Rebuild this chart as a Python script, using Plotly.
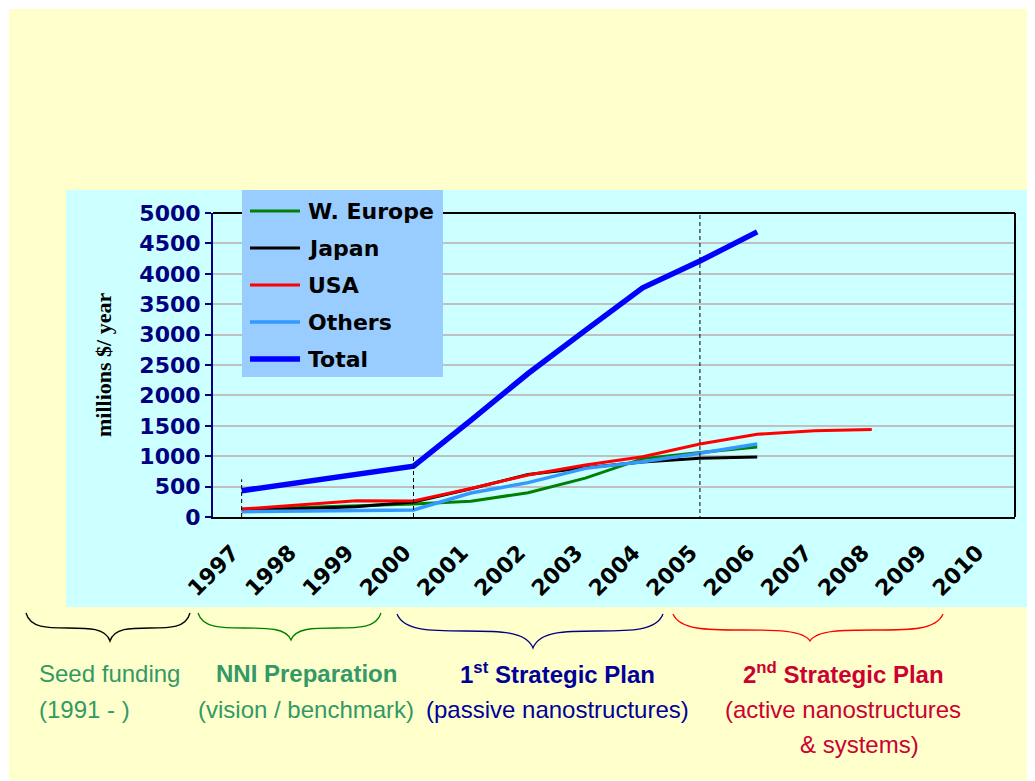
import plotly.graph_objects as go

# ---------------- data ----------------
years = [str(y) for y in range(1997, 2011)]
series_names = ["W. Europe", "Japan", "USA", "Others", "Total"]
weurope = [126, 151, 179, 212, 260, 400, 640, 960, 1060, 1150, None, None, None, None]
japan   = [115, 135, 168, 245, 465, 700, 810, 905, 965, 985, None, None, None, None]
usa     = [131, 197, 266, 265, 470, 690, 855, 990, 1200, 1360, 1420, 1440, None, None]
others  = [88, 96, 105, 115, 395, 565, 800, 910, 1050, 1200, None, None, None, None]
total   = [433, 567, 700, 835, 1590, 2360, 3070, 3770, 4210, 4690, None, None, None, None]
y_ticks = list(range(0, 5001, 500))

series_values = [weurope, japan, usa, others, total]
series_colors = ["#008000", "#000000", "#FF0000", "#3399FF", "#0000FF"]
series_widths = [3, 3, 3, 3.5, 5.5]
draw_order = [0, 1, 3, 2, 4]

phase_titles = ["Seed funding", "<b>NNI Preparation</b>", "<b>1<sup>st</sup> Strategic Plan</b>",
                "<b>2<sup>nd</sup> Strategic Plan</b>"]
phase_subs = [["(1991 - )"], ["(vision / benchmark)"], ["(passive nanostructures)"],
              ["(active nanostructures", "& systems)"]]

# ---------------- geometry (page pixels; the page body adds an 8px margin) ----------------
OFF = 8
PAGE_W, PAGE_H = 1035, 781
W, H = PAGE_W - OFF, PAGE_H - OFF
L, R, T, B = 213, 1015, 213, 517   # plot area in page pixels


def px(x):
    return (x - L) / (R - L)


def py(y):
    return (B - y) / (B - T)


fig = go.Figure()
for i in draw_order:
    fig.add_trace(go.Scatter(
        x=years, y=series_values[i], name=series_names[i], mode="lines",
        line=dict(color=series_colors[i], width=series_widths[i]),
        connectgaps=False, showlegend=False))

shapes = []
# page background & chart panel
shapes.append(dict(type="rect", xref="paper", yref="paper", x0=px(9), x1=px(1040), y0=py(9), y1=py(780),
                   fillcolor="#FFFFCC", line=dict(width=0), layer="below"))
shapes.append(dict(type="rect", xref="paper", yref="paper", x0=px(66), x1=px(1040), y0=py(190), y1=py(607),
                   fillcolor="#CCFFFF", line=dict(width=0), layer="below"))
# top and right border
shapes.append(dict(type="line", xref="paper", yref="paper", x0=0, x1=1, y0=1, y1=1,
                   line=dict(color="black", width=2), layer="above"))
shapes.append(dict(type="line", xref="paper", yref="paper", x0=1, x1=1, y0=0, y1=1,
                   line=dict(color="black", width=2), layer="above"))
# dashed phase markers
for xi, ytop, ybot in [(0, 620, 0), (3, 1000, 0), (8, 5000, -50)]:
    shapes.append(dict(type="line", xref="x", yref="y", x0=xi, x1=xi, y0=ybot, y1=ytop,
                       line=dict(color="black", width=1, dash="4px,3px"), layer="above"))

# manual legend
shapes.append(dict(type="rect", xref="paper", yref="paper", x0=px(242), x1=px(443), y0=py(190), y1=py(377),
                   fillcolor="#99CCFF", line=dict(width=0), layer="above"))
annotations = []
leg_y = [211, 248, 285, 322, 359]
for i in range(5):
    shapes.append(dict(type="line", xref="paper", yref="paper", x0=px(250), x1=px(300),
                       y0=py(leg_y[i]), y1=py(leg_y[i]),
                       line=dict(color=series_colors[i], width=series_widths[i]), layer="above"))
    annotations.append(dict(xref="paper", yref="paper", x=px(306), y=py(leg_y[i]), text="<b>%s</b>" % series_names[i],
                            showarrow=False, xanchor="left", yanchor="middle",
                            font=dict(family="DejaVu Sans", size=22, color="black")))


# braces
def brace(x0, x1, xm, ytop, ymid, ytip):
    Lw = xm - x0
    Rw = x1 - xm
    pts = [
        ("M", [(x0, ytop)]),
        ("C", [(x0 + 0.05 * Lw, ymid), (x0 + 0.25 * Lw, ymid), (x0 + 0.5 * Lw, ymid)]),
        ("C", [(xm - 0.25 * Lw, ymid), (xm - 0.05 * Lw, ymid), (xm, ytip)]),
        ("C", [(xm + 0.05 * Rw, ymid), (xm + 0.25 * Rw, ymid), (xm + 0.5 * Rw, ymid)]),
        ("C", [(x1 - 0.25 * Rw, ymid), (x1 - 0.05 * Rw, ymid), (x1, ytop)]),
    ]
    s = ""
    for cmd, pl in pts:
        s += cmd + " " + " ".join("%.5f,%.5f" % (px(a), py(b)) for a, b in pl) + " "
    return s.strip()


brace_specs = [
    (26, 190, 110, 613, 628, 641, "#000000"),
    (198, 381, 291, 613, 628, 640, "#008000"),
    (397, 663, 533, 614, 631, 648, "#000080"),
    (673, 943, 810, 614, 630, 641, "#FF0000"),
]
for x0, x1, xm, yt, ym, yp, c in brace_specs:
    shapes.append(dict(type="path", xref="paper", yref="paper", path=brace(x0, x1, xm, yt, ym, yp),
                       line=dict(color=c, width=1.3), layer="above"))

# phase texts
narrow = "Liberation Sans, Arial, sans-serif"
phase_colors = ["#339966", "#339966", "#000099", "#CC0033"]
title_pos = [(37, "left"), (306, "center"), (557, "center"), (843, "center")]
sub_pos = [[(37, "left")], [(306, "center")], [(557, "center")], [(843, "center"), (859, "center")]]
for k in range(4):
    xx, anc = title_pos[k]
    annotations.append(dict(xref="paper", yref="paper", x=px(xx), y=py(673), text=phase_titles[k],
                            showarrow=False, xanchor=anc, yanchor="middle",
                            font=dict(family=narrow, size=24, color=phase_colors[k])))
    for j, line in enumerate(phase_subs[k]):
        xx2, anc2 = sub_pos[k][j]
        annotations.append(dict(xref="paper", yref="paper", x=px(xx2), y=py(709 + 35 * j), text=line,
                                showarrow=False, xanchor=anc2, yanchor="middle",
                                font=dict(family=narrow, size=24, color=phase_colors[k])))

# y-axis title
annotations.append(dict(xref="paper", yref="paper", x=px(103), y=py(365), text="<b>millions $/ year</b>",
                        showarrow=False, textangle=-90, xanchor="center", yanchor="middle",
                        font=dict(family="Liberation Serif, Times New Roman, serif", size=22, color="black")))

fig.update_layout(
    width=W, height=H,
    margin=dict(l=L - OFF, r=PAGE_W - R, t=T - OFF, b=PAGE_H - B),
    paper_bgcolor="white", plot_bgcolor="#CCFFFF",
    showlegend=False,
    shapes=shapes, annotations=annotations,
    xaxis=dict(type="category", categoryorder="array", categoryarray=years, range=[-0.5, 13.5],
               showgrid=False, zeroline=False, showline=True, linecolor="black", linewidth=2,
               ticks="", tickangle=-45, ticklabelstandoff=12, ticklabelshift=-9,
               tickfont=dict(family="DejaVu Sans", size=22, color="black", weight="bold")),
    yaxis=dict(range=[0, 5000], tickvals=y_ticks, showgrid=True, gridcolor="#C0C0C0", gridwidth=2,
               zeroline=False, showline=True, linecolor="#000080", linewidth=2,
               ticks="outside", ticklen=6, tickcolor="#000080", tickwidth=2,
               tickfont=dict(family="DejaVu Sans", size=22, color="#000080", weight="bold")),
)

fig.write_html("out.html")
